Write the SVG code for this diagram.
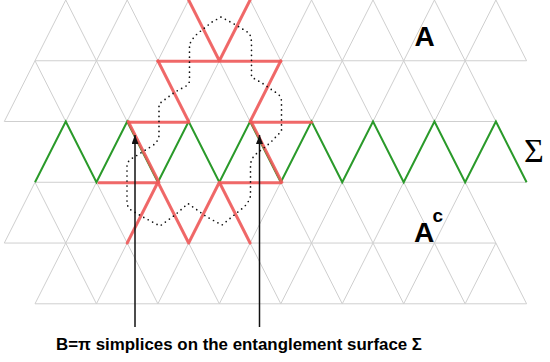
<svg xmlns="http://www.w3.org/2000/svg" width="550" height="362" viewBox="0 0 550 362">
<style>
.grid{fill:none;stroke:#cfcfcf;stroke-width:1}
.green{fill:none;stroke:#2a9a2a;stroke-width:2;stroke-linejoin:miter}
.red{fill:none;stroke:#ef5a5a;stroke-width:3;stroke-linecap:round;stroke-linejoin:round;opacity:0.9}
.dots{fill:none;stroke:#111;stroke-width:1.7;stroke-linecap:round;stroke-dasharray:0 5}
.arrow{stroke:#111;stroke-width:1.5}
.lbl{font-family:"Liberation Sans",Arial,sans-serif;font-weight:bold;fill:#000}
.sig{font-family:"Liberation Serif","Times New Roman",serif;fill:#000}
</style>
<defs>
<marker id="ah" markerUnits="userSpaceOnUse" markerWidth="10" markerHeight="8" refX="9" refY="3.5" orient="auto">
<path d="M0,0 L9,3.5 L0,7 z" fill="#111"/>
</marker>
</defs>
<g id="lattice">
<polyline class="grid" points="35,60.76 65.75,0 96.45,60.76 127.2,0 157.9,60.76 188.65,0 219.35,60.76 250.1,0 280.8,60.76 311.55,0 342.25,60.76 373,0 403.7,60.76 434.45,0 465.15,60.76 495.9,0 526.6,60.76"/>
<polyline class="grid" points="4.3,121.52 35,60.76 65.75,121.52 96.45,60.76 127.2,121.52 157.9,60.76 188.65,121.52 219.35,60.76 250.1,121.52 280.8,60.76 311.55,121.52 342.25,60.76 373,121.52 403.7,60.76 434.45,121.52 465.15,60.76 495.9,121.52"/>
<polyline class="grid" points="4.3,243.04 35,182.28 65.75,243.04 96.45,182.28 127.2,243.04 157.9,182.28 188.65,243.04 219.35,182.28 250.1,243.04 280.8,182.28 311.55,243.04 342.25,182.28 373,243.04 403.7,182.28 434.45,243.04 465.15,182.28 495.9,243.04"/>
<polyline class="grid" points="35,303.8 65.75,243.04 96.45,303.8 127.2,243.04 157.9,303.8 188.65,243.04 219.35,303.8 250.1,243.04 280.8,303.8 311.55,243.04 342.25,303.8 373,243.04 403.7,303.8 434.45,243.04 465.15,303.8 495.9,243.04 526.6,303.8"/>
<line class="grid" x1="35" y1="60.76" x2="526.6" y2="60.76"/>
<line class="grid" x1="4.3" y1="121.52" x2="495.9" y2="121.52"/>
<line class="grid" x1="35" y1="182.28" x2="526.6" y2="182.28"/>
<line class="grid" x1="4.3" y1="243.04" x2="495.9" y2="243.04"/>
<line class="grid" x1="35" y1="303.8" x2="526.6" y2="303.8"/>
</g>
<g id="surface">
<polyline class="green" points="35,182.28 65.75,121.52 96.45,182.28 127.2,121.52 157.9,182.28 188.65,121.52 219.35,182.28 250.1,121.52 280.8,182.28 311.55,121.52 342.25,182.28 373,121.52 403.7,182.28 434.45,121.52 465.15,182.28 495.9,121.52 526.6,182.28"/>
</g>
<g id="simplices">
<polyline class="red" points="188.65,0 219.35,60.76 250.1,0"/>
<line class="red" x1="157.9" y1="61.2" x2="280.8" y2="61.2"/>
<line class="red" x1="157.9" y1="60.76" x2="188.65" y2="121.52"/>
<line class="red" x1="280.8" y1="60.76" x2="250.1" y2="121.52"/>
<line class="red" x1="129" y1="122.2" x2="188.65" y2="122.2"/>
<line class="red" x1="251" y1="122.2" x2="311.55" y2="122.2"/>
<line class="red" x1="128.2" y1="121.52" x2="158.9" y2="182.28"/>
<line class="red" x1="251.1" y1="121.52" x2="281.8" y2="182.28"/>
<line class="red" x1="99" y1="182.8" x2="157.9" y2="182.8"/>
<line class="red" x1="220.5" y1="182.8" x2="280.8" y2="182.8"/>
<polyline class="red" points="127.2,243.04 157.9,182.28 188.65,243.04 219.35,182.28 250.1,243.04"/>
</g>
<g id="region-boundary">
<path class="dots" d="M221,17 L236,25 L249,33 Q251.5,37 251.5,44 L251.5,77 L262,83 L278,94 Q281.5,97 281.5,102 L281.5,131 L270,143 L256,154 Q250.5,159 250.5,166 L250.5,196 Q249,202 244,207 L222,225 L207,217 L188,203.5 L175,215 L160,226 L143,217 L131,210 Q127,207 127,202 L127,166 Q127,162 131,159 L152,146 Q159,141 159,135 L159,104 L175,92 L186,86 Q189.5,84 189.5,80 L189.5,45 Q191,40 197,34 L212,22 Z"/>
</g>
<g id="arrows">
<line class="arrow" x1="135" y1="327" x2="135" y2="135" marker-end="url(#ah)"/>
<line class="arrow" x1="259.5" y1="327" x2="259.5" y2="135" marker-end="url(#ah)"/>
</g>
<g id="labels">
<text class="lbl" x="414.5" y="46" font-size="28">A</text>
<text class="lbl" x="414" y="241.5" font-size="28">A</text>
<text class="lbl" x="432.5" y="221.5" font-size="19">c</text>
<text class="sig" x="524" y="161.5" font-size="34">Σ</text>
<text class="lbl" x="56" y="350" font-size="17" textLength="366" lengthAdjust="spacingAndGlyphs">B=π simplices on the entanglement surface Σ</text>
</g>
</svg>
